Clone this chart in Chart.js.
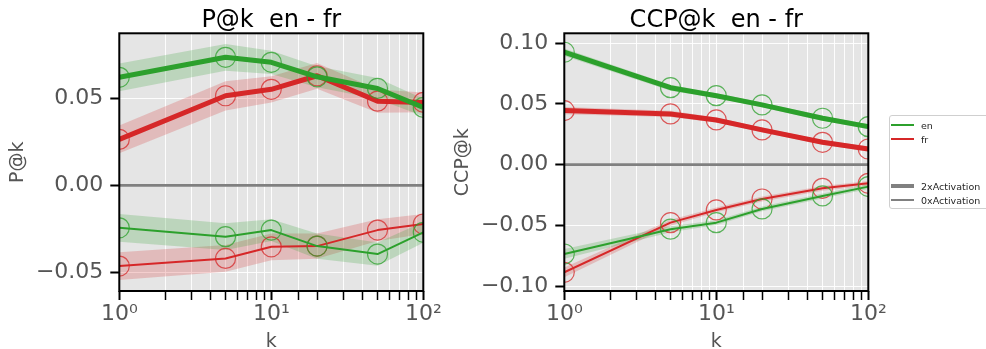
<!DOCTYPE html>
<html>
<head>
<meta charset="utf-8">
<script src="https://cdn.jsdelivr.net/npm/chart.js@4"></script>
<style>
  html, body { margin: 0; padding: 0; background: #ffffff; }
  #wrap { position: relative; width: 986px; height: 349px; overflow: hidden; }
  canvas { position: absolute; top: 0; }
  #pChart { left: 0; }
  #ccpChart { left: 440px; }
  .legend {
    position: absolute; left: 889px; top: 115px; width: 110px; height: 92px;
    border: 1px solid #cfcfcf; border-radius: 3px; background: rgba(255,255,255,0.85);
    font-family: 'DejaVu Sans', sans-serif; font-size: 9.5px; color: #262626;
  }
  .row { position: absolute; left: 0; height: 12px; display: flex; align-items: center; white-space: nowrap; }
  .sw { display: inline-block; width: 23px; margin-left: 1px; margin-right: 7px; }
</style>
</head>
<body>
<div id="wrap">
  <canvas id="pChart" width="450" height="349"></canvas>
  <canvas id="ccpChart" width="460" height="349"></canvas>
  <div class="legend">
    <div class="row" style="top:3px"><span class="sw" style="height:2.5px;background:#2ca02c"></span>en</div>
    <div class="row" style="top:17px"><span class="sw" style="height:2.5px;background:#d62728"></span>fr</div>
    <div class="row" style="top:64px"><span class="sw" style="height:4px;background:#808080"></span>2xActivation</div>
    <div class="row" style="top:78px"><span class="sw" style="height:1.5px;background:#808080"></span>0xActivation</div>
  </div>
</div>
<script>
// k values on the log x axis
const kValues = [1, 5, 10, 20, 50, 100];
const xTickLabels = { 1: '10⁰', 10: '10¹', 100: '10²' };

// P@k, en - fr (mean and half-width of the shaded band)
const pEn2x       = [0.0621, 0.0736, 0.0707, 0.0624, 0.0557, 0.0448];
const pEn2xSpread = [0.0080, 0.0077, 0.0067, 0.0060, 0.0060, 0.0050];
const pFr2x       = [0.0264, 0.0515, 0.0552, 0.0630, 0.0484, 0.0477];
const pFr2xSpread = [0.0080, 0.0084, 0.0075, 0.0074, 0.0067, 0.0057];
const pEn0x       = [-0.0244, -0.0295, -0.0257, -0.0349, -0.0395, -0.0270];
const pEn0xSpread = [0.0080, 0.0077, 0.0063, 0.0072, 0.0067, 0.0060];
const pFr0x       = [-0.0464, -0.0420, -0.0353, -0.0349, -0.0257, -0.0222];
const pFr0xSpread = [0.0080, 0.0077, 0.0077, 0.0072, 0.0063, 0.0057];
const pRange = [-0.0607, 0.0874];

// CCP@k, en - fr
const ccpEn2x       = [0.0926, 0.0634, 0.0568, 0.0492, 0.0382, 0.0313];
const ccpEn2xSpread = [0.0030, 0.0025, 0.0020, 0.0020, 0.0020, 0.0020];
const ccpFr2x       = [0.0445, 0.0418, 0.0368, 0.0286, 0.0184, 0.0129];
const ccpFr2xSpread = [0.0030, 0.0025, 0.0020, 0.0020, 0.0020, 0.0020];
const ccpEn0x       = [-0.0736, -0.0532, -0.0478, -0.0365, -0.0258, -0.0181];
const ccpEn0xSpread = [0.0040, 0.0025, 0.0020, 0.0020, 0.0020, 0.0020];
const ccpFr0x       = [-0.0887, -0.0478, -0.0373, -0.0283, -0.0195, -0.0154];
const ccpFr0xSpread = [0.0040, 0.0025, 0.0020, 0.0020, 0.0020, 0.0020];
const ccpRange = [-0.1041, 0.1082];

const GREEN = { line: '#2ca02c', band: 'rgba(44,160,44,0.22)', ring: 'rgba(44,160,44,0.75)' };
const RED   = { line: '#d62728', band: 'rgba(214,39,40,0.22)', ring: 'rgba(214,39,40,0.75)' };
const FONT = "'DejaVu Sans', sans-serif";

function series(values, spread, col, width, order) {
  const upper = kValues.map((k, i) => ({ x: k, y: values[i] + spread[i] }));
  const lower = kValues.map((k, i) => ({ x: k, y: values[i] - spread[i] }));
  const mid   = kValues.map((k, i) => ({ x: k, y: values[i] }));
  return [
    { data: upper, borderWidth: 0, borderColor: 'rgba(0,0,0,0)', pointRadius: 0, fill: false, order: 5, clip: 0 },
    { data: lower, borderWidth: 0, borderColor: 'rgba(0,0,0,0)', pointRadius: 0, fill: '-1', backgroundColor: col.band, order: 5, clip: 0 },
    { data: mid, borderColor: col.line, borderWidth: width, borderJoinStyle: 'round',
      pointRadius: 10, pointBorderWidth: 1.2, pointBorderColor: col.ring,
      pointBackgroundColor: 'rgba(0,0,0,0)', fill: false, order: order, clip: 0 }
  ];
}

function zeroLine() {
  return { data: [{ x: 1, y: 0 }, { x: 100, y: 0 }], borderColor: '#808080', borderWidth: 2.6,
           pointRadius: 0, fill: false, order: 4, clip: 0 };
}

const panelPlugin = {
  id: 'panel',
  beforeDraw(chart) {
    const a = chart.chartArea, ctx = chart.ctx;
    ctx.save();
    ctx.fillStyle = '#e5e5e5';
    ctx.fillRect(a.left, a.top, a.right - a.left, a.bottom - a.top);
    ctx.restore();
  },
  afterDatasetsDraw(chart) {
    const a = chart.chartArea, ctx = chart.ctx;
    ctx.save();
    ctx.strokeStyle = '#000';
    ctx.lineWidth = 2;
    ctx.strokeRect(a.left, a.top, a.right - a.left, a.bottom - a.top);
    ctx.restore();
  },
  afterDraw(chart, args, opts) {
    const a = chart.chartArea, ctx = chart.ctx;
    ctx.save();
    ctx.fillStyle = '#000';
    ctx.font = '24px ' + FONT;
    ctx.textAlign = 'center';
    ctx.textBaseline = 'alphabetic';
    ctx.fillText(opts.text, (a.left + a.right) / 2, 27);
    ctx.restore();
  }
};

function makeChart(id, title, yLabel, range, yWidth, rightPad, yTitlePad, datasets) {
  return new Chart(document.getElementById(id), {
    type: 'line',
    data: { datasets },
    plugins: [panelPlugin],
    options: {
      responsive: false,
      animation: false,
      events: [],
      layout: { padding: { top: 33.3, left: 0, right: rightPad, bottom: 0 } },
      plugins: { legend: { display: false }, tooltip: { enabled: false }, panel: { text: title } },
      scales: {
        x: {
          type: 'logarithmic', min: 1, max: 100,
          border: { display: false },
          grid: {
            color: 'rgba(255,255,255,0.9)', lineWidth: 1,
            tickLength: 9, tickColor: '#000',
            tickWidth: ctx => (xTickLabels[ctx.tick && ctx.tick.value] ? 2 : 1.5)
          },
          ticks: {
            autoSkip: false, maxRotation: 0, padding: 1, color: '#555555',
            font: { family: FONT, size: 22 },
            callback: v => xTickLabels[v] || ''
          },
          title: { display: true, text: 'k', color: '#555555',
                   font: { family: FONT, size: 19, lineHeight: 0.7 }, padding: { top: 0, bottom: 0 } },
          afterFit: s => { s.height = 58; }
        },
        y: {
          type: 'linear', min: range[0], max: range[1],
          border: { display: false },
          grid: { color: 'rgba(255,255,255,0.9)', lineWidth: 1, tickLength: 9, tickColor: '#000', tickWidth: 2 },
          ticks: {
            stepSize: 0.05, includeBounds: false, padding: 7, color: '#555555',
            font: { family: FONT, size: 22 },
            callback: v => v.toFixed(2).replace('-', '\u2212')
          },
          title: { display: true, text: yLabel, color: '#555555',
                   font: { family: FONT, size: 19, lineHeight: 1 }, padding: { top: yTitlePad, bottom: 0 } },
          afterFit: s => { s.width = yWidth; }
        }
      }
    }
  });
}

makeChart('pChart', 'P@k  en - fr', 'P@k', pRange, 119.3, 26.7, 9, [
  ...series(pEn2x, pEn2xSpread, GREEN, 5, 0),
  ...series(pFr2x, pFr2xSpread, RED, 5, 0),
  ...series(pEn0x, pEn0xSpread, GREEN, 2, 1),
  ...series(pFr0x, pFr0xSpread, RED, 2, 1),
  zeroLine()
]);

makeChart('ccpChart', 'CCP@k  en - fr', 'CCP@k', ccpRange, 124.3, 31.7, 13.5, [
  ...series(ccpEn2x, ccpEn2xSpread, GREEN, 5, 0),
  ...series(ccpFr2x, ccpFr2xSpread, RED, 5, 0),
  ...series(ccpEn0x, ccpEn0xSpread, GREEN, 2, 1),
  ...series(ccpFr0x, ccpFr0xSpread, RED, 2, 1),
  zeroLine()
]);
</script>
</body>
</html>
